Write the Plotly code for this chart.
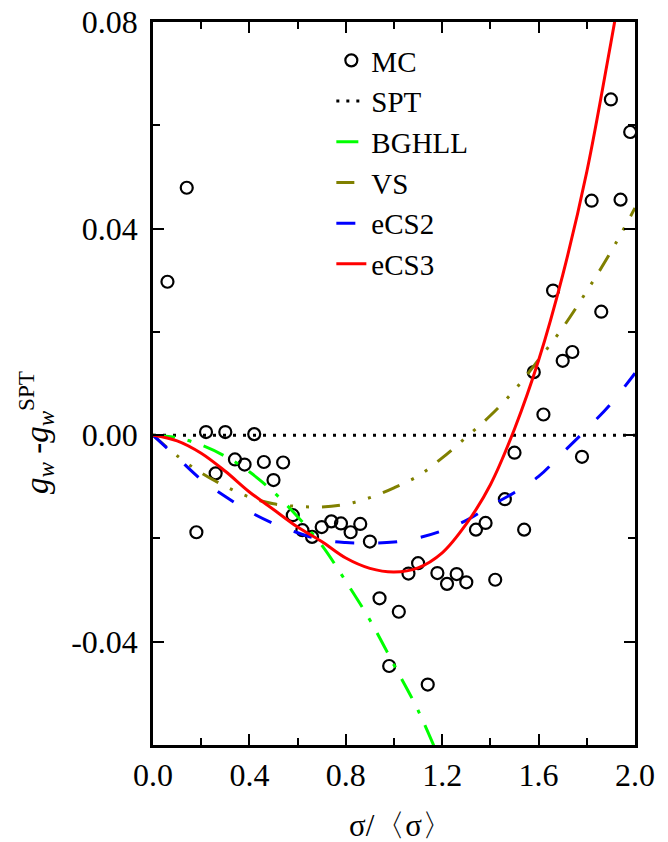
import plotly.graph_objects as go

# ---- data ----
mc_x = [0.06, 0.14, 0.18, 0.22, 0.26, 0.30, 0.34, 0.38, 0.42, 0.46, 0.50, 0.54,
        0.58, 0.62, 0.66, 0.70, 0.74, 0.78, 0.82, 0.86, 0.90, 0.94, 0.98, 1.02,
        1.06, 1.10, 1.14, 1.18, 1.22, 1.26, 1.30, 1.34, 1.38, 1.42, 1.46, 1.50,
        1.54, 1.58, 1.62, 1.66, 1.70, 1.74, 1.78, 1.82, 1.86, 1.90, 1.94, 1.98]
mc_y = [0.0297, 0.0479, -0.0188, 0.0006, -0.0074, 0.0006, -0.0047, -0.0057, 0.0002, -0.0052, -0.0087, -0.0053,
        -0.0155, -0.0184, -0.0197, -0.0178, -0.0167, -0.0171, -0.0188, -0.0172, -0.0206, -0.0316, -0.0447, -0.0342,
        -0.0268, -0.0248, -0.0483, -0.0267, -0.0288, -0.0269, -0.0285, -0.0183, -0.0170, -0.0280, -0.0124, -0.0034,
        -0.0183, 0.0122, 0.0040, 0.0280, 0.0144, 0.0161, -0.0042, 0.0454, 0.0239, 0.0650, 0.0456, 0.0587]

curve_x = [0.0, 0.1, 0.2, 0.3, 0.4, 0.5, 0.6, 0.7, 0.8, 0.9, 1.0,
           1.1, 1.2, 1.3, 1.4, 1.5, 1.6, 1.7, 1.8, 1.9, 2.0]
spt_y = [0.0] * 21
bghll_x = [0.0, 0.1, 0.2, 0.3, 0.4, 0.5, 0.6, 0.7, 0.8, 0.9, 1.0, 1.1, 1.2]
bghll_y = [0.0, -0.0005, -0.0019, -0.0041, -0.0071, -0.0110, -0.0158, -0.0213,
           -0.0283, -0.0358, -0.0445, -0.0533, -0.0640]
vs_y = [0.0, -0.0040, -0.0073, -0.0099, -0.0120, -0.0133, -0.0138, -0.0139, -0.0134,
        -0.0121, -0.0102, -0.0079, -0.0044, -0.0004, 0.0038, 0.0087, 0.0146, 0.0208,
        0.0279, 0.0355, 0.0440]
ecs2_y = [0.0, -0.0043, -0.0086, -0.0119, -0.0148, -0.0171, -0.0189, -0.0203, -0.0208,
          -0.0209, -0.0207, -0.0199, -0.0185, -0.0165, -0.0137, -0.0111, -0.0080, -0.0034,
          0.0012, 0.0061, 0.0120]
ecs3_x = [0.0, 0.1, 0.2, 0.3, 0.4, 0.5, 0.6, 0.7, 0.8, 0.9, 1.0,
          1.1, 1.2, 1.3, 1.4, 1.5, 1.6, 1.7, 1.8, 1.9, 1.95]
ecs3_y = [0.0, -0.0011, -0.0035, -0.0070, -0.0110, -0.0144, -0.0178, -0.0206, -0.0238,
          -0.0258, -0.0265, -0.0257, -0.0228, -0.0172, -0.0096, 0.0012, 0.0145, 0.0310,
          0.0510, 0.0760, 0.0890]

x_ticks = [0.0, 0.4, 0.8, 1.2, 1.6, 2.0]
x_ticktext = ["0.0", "0.4", "0.8", "1.2", "1.6", "2.0"]
y_ticks = [-0.04, 0.0, 0.04, 0.08]
y_ticktext = ["-0.04", "0.00", "0.04", "0.08"]

FONT = "Liberation Serif, Times New Roman, serif"
FS = 32

fig = go.Figure()
fig.add_trace(go.Scatter(x=mc_x, y=mc_y, mode="markers", name="MC",
                         marker=dict(symbol="circle-open", size=12, color="black",
                                     line=dict(width=2.2, color="black"))))
fig.add_trace(go.Scatter(x=curve_x, y=spt_y, mode="lines", name="SPT",
                         line=dict(color="black", width=3, dash="3px,7px")))
fig.add_trace(go.Scatter(x=bghll_x, y=bghll_y, mode="lines", name="BGHLL", line_shape="spline",
                         line=dict(color="#00ff00", width=3, dash="22px,13px,4px,13px")))
fig.add_trace(go.Scatter(x=curve_x, y=vs_y, mode="lines", name="VS", line_shape="spline",
                         line=dict(color="#808000", width=3, dash="18px,13px,3px,13px,3px,13px")))
fig.add_trace(go.Scatter(x=curve_x, y=ecs2_y, mode="lines", name="eCS2", line_shape="spline",
                         line=dict(color="#0000ff", width=3, dash="19px,24px")))
fig.add_trace(go.Scatter(x=ecs3_x, y=ecs3_y, mode="lines", name="eCS3", line_shape="spline",
                         line=dict(color="#ff0000", width=3)))

axis_common = dict(showline=True, linecolor="black", linewidth=2.5, mirror="allticks",
                   ticks="inside", ticklen=11, tickwidth=2, tickcolor="black", automargin=False,
                   showgrid=False, zeroline=False, tickfont=dict(family=FONT, size=FS, color="black"))

fig.update_xaxes(range=[0, 2], tickmode="array", tickvals=x_ticks, ticktext=x_ticktext,
                 minor=dict(ticks="inside", ticklen=7, tickwidth=2, tickcolor="black", dtick=0.2, tick0=0),
                 ticklabelstandoff=0, **axis_common)
fig.update_yaxes(range=[-0.06, 0.08], tickmode="array", tickvals=y_ticks, ticktext=y_ticktext,
                 minor=dict(ticks="inside", ticklen=7, tickwidth=2, tickcolor="black", dtick=0.02, tick0=0),
                 ticklabelstandoff=6, **axis_common)

fig.add_annotation(text="<i>g</i><sub><i>w</i></sub> -<i>g</i><sub><i>w</i></sub><sup>SPT</sup>",
                   xref="paper", yref="paper", x=-0.242, y=0.432, textangle=-90,
                   showarrow=False, xanchor="center", yanchor="middle",
                   font=dict(family=FONT, size=33, color="black"))
fig.add_annotation(text="σ/〈σ〉", xref="paper", yref="paper", x=0.515, y=-0.111,
                   showarrow=False, xanchor="center", yanchor="middle",
                   font=dict(family=FONT, size=31, color="black"))

fig.update_layout(width=668, height=842, margin=dict(l=153, r=33, t=22, b=97, autoexpand=False),
                  paper_bgcolor="white", plot_bgcolor="white",
                  font=dict(family=FONT, size=FS, color="black"),
                  legend=dict(x=0.37, y=0.982, xanchor="left", yanchor="top",
                              bgcolor="rgba(0,0,0,0)", borderwidth=0,
                              font=dict(family=FONT, size=29, color="black"),
                              tracegroupgap=0))

fig.write_html("out.html", config={"displayModeBar": False},
               post_script="document.body.style.margin='0px';")
